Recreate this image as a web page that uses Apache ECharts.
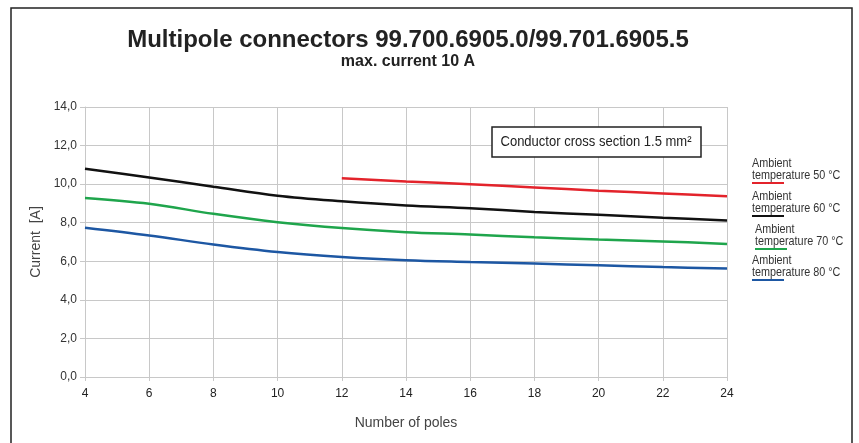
<!DOCTYPE html>
<html>
<head>
<meta charset="utf-8">
<script src="https://cdn.jsdelivr.net/npm/echarts@6/dist/echarts.min.js"></script>
<style>
  html, body { margin: 0; padding: 0; background: #fff; }
  #chart { width: 859px; height: 443px; }
</style>
</head>
<body>
<div id="chart"></div>
<script>
// number of poles
var poles = [4, 6, 8, 10, 12, 14, 16, 18, 20, 22, 24];

// current [A] per ambient temperature (null = no value)
var temp50 = [null, null, null, null, 10.3, 10.14, 10.0, 9.83, 9.66, 9.52, 9.37];
var temp60 = [10.8, 10.35, 9.87, 9.4, 9.11, 8.89, 8.75, 8.56, 8.41, 8.26, 8.12];
var temp70 = [9.28, 8.98, 8.46, 8.03, 7.72, 7.51, 7.39, 7.24, 7.13, 7.03, 6.9];
var temp80 = [7.74, 7.34, 6.87, 6.48, 6.22, 6.05, 5.96, 5.88, 5.79, 5.7, 5.62];

var seriesNames = ['Ambient\ntemperature 50 °C', 'Ambient\ntemperature 60 °C', 'Ambient\ntemperature 70 °C', 'Ambient\ntemperature 80 °C'];
var seriesColors = ['#e3232b', '#111111', '#1fa54c', '#1d57a3'];
var seriesData = [temp50, temp60, temp70, temp80];

var chart = echarts.init(document.getElementById('chart'));

var font = '"Liberation Sans", Arial, sans-serif';

var series = seriesData.map(function (vals, i) {
  return {
    name: seriesNames[i],
    type: 'line',
    smooth: 0.35,
    symbol: 'none',
    connectNulls: false,
    lineStyle: { color: seriesColors[i], width: 2.5 },
    itemStyle: { color: seriesColors[i] },
    data: poles.map(function (p, k) { return [p, vals[k]] })
  }
})

// legend on the right: two lines of text with a coloured stroke under it
var legendY = [158, 191, 224, 255];
var legendGraphics = [];
seriesNames.forEach(function (n, i) {
  var dx = i == 2 ? 3 : 0
  legendGraphics.push({
    type: 'text',
    x: 752 + dx,
    y: legendY[i],
    scaleX: 0.9,
    style: {
      text: n,
      font: '12px ' + font,
      fill: '#333',
      lineHeight: 12
    }
  })
  legendGraphics.push({
    type: 'line',
    shape: { x1: 752 + dx, y1: legendY[i] + 25, x2: 784 + dx, y2: legendY[i] + 25 },
    style: { stroke: seriesColors[i], lineWidth: 2 }
  })
})

var option = {
  animation: false,
  grid: {
    left: 85,
    right: 132,
    top: 107,
    bottom: 66
  },
  xAxis: {
    type: 'value',
    min: 4,
    max: 24,
    interval: 2,
    name: 'Number of poles',
    nameLocation: 'middle',
    nameGap: 39,
    nameTextStyle: { fontFamily: 'Arial, sans-serif', fontSize: 14, color: '#444' },
    axisLine: { show: true, lineStyle: { color: '#c8c8c8' } },
    axisTick: { show: true, length: 4, lineStyle: { color: '#c8c8c8' } },
    axisLabel: { fontFamily: 'Arial, sans-serif', fontSize: 12, color: '#222', margin: 11 },
    splitLine: { show: true, lineStyle: { color: '#c8c8c8' } }
  },
  yAxis: {
    type: 'value',
    min: 0,
    max: 14,
    interval: 2,
    name: 'Current  [A]',
    nameLocation: 'middle',
    nameGap: 34,
    nameTextStyle: { fontFamily: 'Arial, sans-serif', fontSize: 14, color: '#444' },
    axisLine: { show: true, lineStyle: { color: '#c8c8c8' } },
    axisTick: { show: true, length: 5, lineStyle: { color: '#c8c8c8' } },
    axisLabel: {
      fontFamily: 'Arial, sans-serif',
      fontSize: 12,
      color: '#333',
      margin: 8,
      formatter: function (v) { return v.toFixed(1).replace('.', ',') }
    },
    splitLine: { show: true, lineStyle: { color: '#c8c8c8' } }
  },
  series: series,
  graphic: [
    // outer frame
    {
      type: 'rect',
      shape: { x: 11, y: 8, width: 841, height: 460 },
      style: { fill: 'none', stroke: '#222', lineWidth: 1.5 },
      z: 100
    },
    // title + subtitle
    {
      type: 'text',
      x: 408,
      y: 40,
      style: {
        text: 'Multipole connectors 99.700.6905.0/99.701.6905.5',
        font: 'bold 24px ' + font,
        fill: '#222',
        align: 'center',
        verticalAlign: 'middle'
      }
    },
    {
      type: 'text',
      x: 408,
      y: 62,
      style: {
        text: 'max. current 10 A',
        font: 'bold 16px ' + font,
        fill: '#222',
        align: 'center',
        verticalAlign: 'middle'
      }
    },
    // annotation box
    {
      type: 'rect',
      shape: { x: 492, y: 127, width: 209, height: 30 },
      style: { fill: '#fff', stroke: '#222', lineWidth: 1.5 },
      z: 100
    },
    {
      type: 'text',
      x: 596,
      y: 142,
      scaleX: 0.93,
      z: 101,
      style: {
        text: 'Conductor cross section 1.5 mm²',
        font: '14px ' + font,
        fill: '#222',
        align: 'center',
        verticalAlign: 'middle'
      }
    }
  ].concat(legendGraphics)
};

chart.setOption(option);
</script>
</body>
</html>
